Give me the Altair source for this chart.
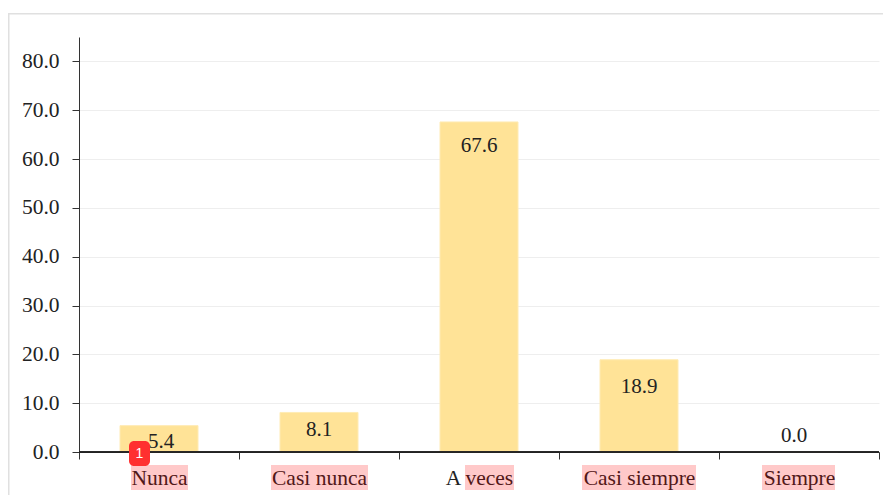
import altair as alt
import pandas as pd

categories = ["Nunca", "Casi nunca", "A veces", "Casi siempre", "Siempre"]
values = [5.4, 8.1, 67.6, 18.9, 0.0]
y_ticks = [0, 10, 20, 30, 40, 50, 60, 70, 80]

df = pd.DataFrame({"cat": categories, "val": values})

FONT = "Liberation Serif"
x = alt.X("cat:N", sort=categories, title=None,
          scale=alt.Scale(paddingInner=0, paddingOuter=0),
          axis=alt.Axis(labelAngle=0, labelFont=FONT, labelFontSize=21.5, labelColor="#222",
                        labelPadding=8, tickBand="extent", tickSize=7, tickColor="#333",
                        domainColor="#222", grid=False))
y = alt.Y("val:Q", title=None,
          scale=alt.Scale(domain=[0, 85], nice=False),
          axis=alt.Axis(values=y_ticks, format=".1f", labelFont=FONT, labelFontSize=21.5,
                        labelColor="#222", labelPadding=13, tickSize=7, tickColor="#333",
                        domainColor="#333", gridColor="#eeeeee"))

bars = alt.Chart(df).mark_bar(size=78, color="#FFE397", stroke="#FFEBB4", strokeWidth=1).encode(x=x, y=y)

base_line = alt.Chart(df).mark_rule(color="#222", strokeWidth=1).encode(y=alt.datum(0))

label_nudge = {"Nunca": (2, 16), "Casi nunca": (0, 18), "A veces": (0, 24),
               "Casi siempre": (0, 27), "Siempre": (-5, -16)}
labels = [
    alt.Chart(df[df.cat == c]).mark_text(font=FONT, fontSize=21, color="#222", dx=dx, dy=dy,
                                         baseline="middle").encode(
        x=alt.X("cat:N", sort=categories), y=alt.Y("val:Q"), text=alt.Text("val:Q", format=".1f"))
    for c, (dx, dy) in label_nudge.items()
]

def box(x1, x2, y1, y2, **kw):
    return alt.Chart(df.head(1)).mark_rect(**kw).encode(
        x=alt.value(x1), x2=alt.value(x2), y=alt.value(y1), y2=alt.value(y2))

OX, OY = 79, 37
pink = [box(a - OX, b - OX, 465 - OY, 490 - OY, color="#ff0000", opacity=0.21)
        for a, b in [(131, 188), (271, 368), (465, 514), (582, 696), (762, 835)]]

frame = [box(-71, 804, 13 - OY, 14.5 - OY, color="#e0e0e0"),
         box(-71, -69.5, 13 - OY, 495 - OY, color="#e0e0e0")]

badge = box(129 - OX, 150 - OX, 441 - OY, 466 - OY, color="#FF3030", cornerRadius=5)
badge_text = alt.Chart(df.head(1)).mark_text(text="1", font="Liberation Sans", fontSize=14,
                                             color="white", baseline="middle").encode(
    x=alt.value(139.5 - OX), y=alt.value(454 - OY))

chart = alt.layer(*frame, bars, base_line, *labels, *pink, badge, badge_text).resolve_scale(
    x="shared", y="shared"
).properties(
    width=800, height=415,
    padding={"left": 71, "top": 29, "right": 4, "bottom": 43},
    autosize=alt.AutoSizeParams(type="none"),
    background="white",
).configure_view(stroke=None)

chart.save("out.html", embed_options={"renderer": "svg", "actions": False})
